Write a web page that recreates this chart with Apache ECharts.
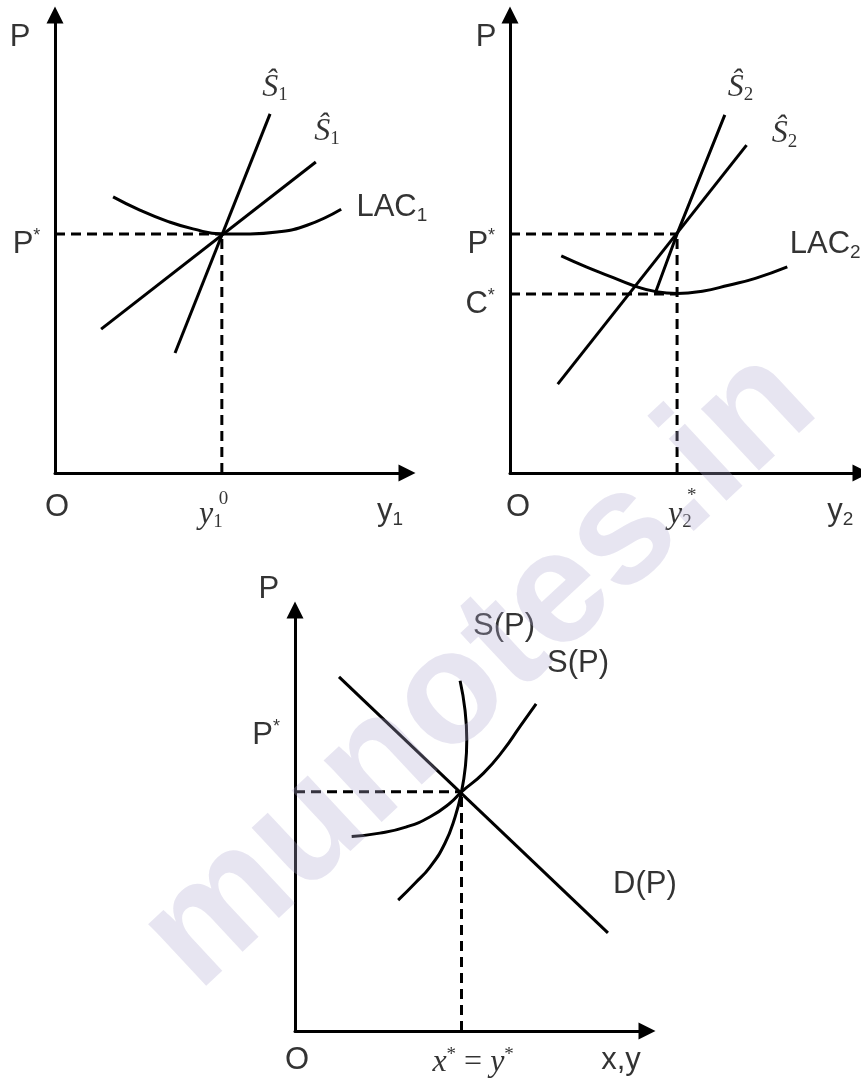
<!DOCTYPE html>
<html>
<head>
<meta charset="utf-8">
<title>Firm and market supply</title>
<script src="https://cdn.jsdelivr.net/npm/echarts@6/dist/echarts.min.js"></script>
<style>
  html, body { margin: 0; padding: 0; background: #fff; }
  #chart { width: 861px; height: 1078px; }
</style>
</head>
<body>
<div id="chart"></div>
<script>
// all three panels use 0..100 on both axes

// panel 1 - firm 1
const pStar1 = 52.2;
const y1Zero = 47.4;
const s1Steep = [[34.1, 26.2], [61.1, 78.4]];
const s1Flat = [[13.1, 31.4], [74.1, 67.9]];
const lac1 = [[16.5, 60.3], [24.1, 57.4], [31.8, 55.0], [39.2, 53.3], [47.4, 52.2], [55.4, 52.2], [63.1, 52.6], [71.6, 54.1], [81.3, 57.6]];

// panel 2 - firm 2
const pStar2 = 52.2;
const cStar2 = 39.1;
const y2Star = 47.6;
const s2Steep = [[41.4, 39.3], [47.6, 52.2], [61.2, 78.2]];
const s2Flat = [[13.6, 19.4], [67.4, 71.6]];
const lac2 = [[14.6, 47.4], [21.7, 45.0], [28.3, 43.0], [34.9, 41.0], [41.6, 39.6], [47.7, 39.2], [54.8, 39.7], [62.3, 41.0], [69.9, 42.5], [79.0, 45.0]];

// panel 3 - market
const pStar3 = 56.8;
const xyStar = 47.3;
const demand = [[12.5, 84.1], [88.9, 23.3]];
const supplySteep = [[46.9, 83.2], [48.3, 76.2], [48.8, 69.1], [48.4, 62.8], [47.3, 56.8], [45.5, 50.9], [42.6, 44.6], [38.4, 39.0], [34.1, 35.1], [29.3, 31.1]];
const supplyFlat = [[16.1, 46.2], [24.1, 47.0], [31.7, 48.5], [38.4, 50.9], [44.0, 54.1], [47.3, 56.8], [53.5, 61.2], [59.2, 66.7], [63.9, 72.3], [68.5, 77.7]];

// text labels: [x, y, rich text]
const labels1 = [
  [-9.9, 95.0, '{t|P}'],
  [-8.1, 50.0, '{t|P}{sup|*}'],
  [0.6, -7.6, '{t|O}'],
  [44.3, -9.0, '{m|y}{msub|1}'],
  [47.9, -5.6, '{msup|0}'],
  [95.2, -8.5, '{t|y}{sub|1}'],
  [62.5, 84.1, '{m|Ŝ}{msub|1}'],
  [77.3, 74.5, '{m|Ŝ}{msub|1}'],
  [95.7, 57.9, '{t|LAC}{sub|1}']
];
const labels2 = [
  [-6.8, 95.0, '{t|P}'],
  [-8.2, 50.0, '{t|P}{sup|*}'],
  [-8.5, 36.9, '{t|C}{sup|*}'],
  [2.3, -7.6, '{t|O}'],
  [48.4, -9.0, '{m|y}{msub|2}'],
  [51.8, -5.0, '{msup|*}'],
  [94.1, -8.5, '{t|y}{sub|2}'],
  [65.7, 84.1, '{m|Ŝ}{msub|2}'],
  [78.2, 74.0, '{m|Ŝ}{msub|2}'],
  [89.8, 49.8, '{t|LAC}{sub|2}']
];
const labels3 = [
  [-7.4, 104.8, '{t|P}'],
  [-8.2, 70.3, '{t|P}{sup|*}'],
  [0.6, -7.1, '{t|O}'],
  [50.6, -7.4, '{m|x}{msup|*}{mu| = }{m|y}{msup|*}'],
  [92.6, -6.9, '{t|x,y}'],
  [59.4, 96.2, '{t|S(P)}'],
  [80.4, 87.2, '{t|S(P)}'],
  [99.4, 34.7, '{t|D(P)}']
];

const sans = 'Liberation Sans';
const serif = 'Liberation Serif';
const rich = {
  t: { fontFamily: sans, fontSize: 31, lineHeight: 34, color: '#000' },
  sub: { fontFamily: sans, fontSize: 19, lineHeight: 19, verticalAlign: 'bottom', color: '#000' },
  sup: { fontFamily: sans, fontSize: 18, lineHeight: 18, verticalAlign: 'top', color: '#000' },
  m: { fontFamily: serif, fontStyle: 'italic', fontSize: 32, lineHeight: 34, color: '#000' },
  mu: { fontFamily: serif, fontSize: 32, lineHeight: 34, color: '#000' },
  msub: { fontFamily: serif, fontSize: 19, lineHeight: 19, verticalAlign: 'bottom', color: '#000' },
  msup: { fontFamily: serif, fontSize: 19, lineHeight: 19, verticalAlign: 'top', color: '#000' }
};

function axis(gridIndex) {
  return {
    type: 'value', gridIndex: gridIndex, min: 0, max: 100,
    axisLine: {
      show: true, onZero: false,
      symbol: ['none', 'triangle'], symbolSize: [17, 17],
      lineStyle: { color: '#000', width: 3 }
    },
    axisTick: { show: false },
    axisLabel: { show: false },
    splitLine: { show: false }
  };
}

function curve(i, data, smooth) {
  return {
    type: 'line', xAxisIndex: i, yAxisIndex: i, data: data,
    smooth: smooth, showSymbol: false, silent: true,
    lineStyle: { color: '#000', width: 3 }
  };
}

function dashed(i, data) {
  return {
    type: 'line', xAxisIndex: i, yAxisIndex: i, data: data,
    showSymbol: false, silent: true,
    lineStyle: { color: '#000', width: 3, type: [10, 6] }
  };
}

function texts(i, list) {
  return {
    type: 'scatter', xAxisIndex: i, yAxisIndex: i, clip: false, silent: true,
    symbolSize: 1, itemStyle: { color: 'transparent' },
    data: list.map(d => ({
      value: [d[0], d[1]],
      label: { show: true, position: 'inside', align: 'center', verticalAlign: 'middle', formatter: d[2], rich: rich }
    }))
  };
}

const chart = echarts.init(document.getElementById('chart'));
chart.setOption({
  backgroundColor: '#fff',
  animation: false,
  grid: [
    { left: 55, top: 15, width: 352, height: 458 },
    { left: 510, top: 15, width: 353, height: 458 },
    { left: 295, top: 610, width: 352, height: 421 }
  ],
  xAxis: [axis(0), axis(1), axis(2)],
  yAxis: [axis(0), axis(1), axis(2)],
  series: [
    dashed(0, [[0, pStar1], [y1Zero, pStar1]]),
    dashed(0, [[y1Zero, 0], [y1Zero, pStar1]]),
    curve(0, s1Steep, false),
    curve(0, s1Flat, false),
    curve(0, lac1, 0.5),
    texts(0, labels1),

    dashed(1, [[0, pStar2], [y2Star, pStar2]]),
    dashed(1, [[0, cStar2], [y2Star, cStar2]]),
    dashed(1, [[y2Star, 0], [y2Star, pStar2]]),
    curve(1, s2Steep, false),
    curve(1, s2Flat, false),
    curve(1, lac2, 0.5),
    texts(1, labels2),

    dashed(2, [[0, pStar3], [xyStar, pStar3]]),
    dashed(2, [[xyStar, 0], [xyStar, pStar3]]),
    curve(2, demand, false),
    curve(2, supplySteep, 0.5),
    curve(2, supplyFlat, 0.5),
    texts(2, labels3)
  ],
  graphic: [{
    type: 'text', x: 480, y: 670, rotation: 43 * Math.PI / 180, z: 100, silent: true,
    style: {
      text: 'munotes.in', font: 'bold 160px "Liberation Sans"',
      fill: 'rgba(175,170,210,0.3)', align: 'center', verticalAlign: 'middle'
    }
  }]
});
</script>
</body>
</html>
